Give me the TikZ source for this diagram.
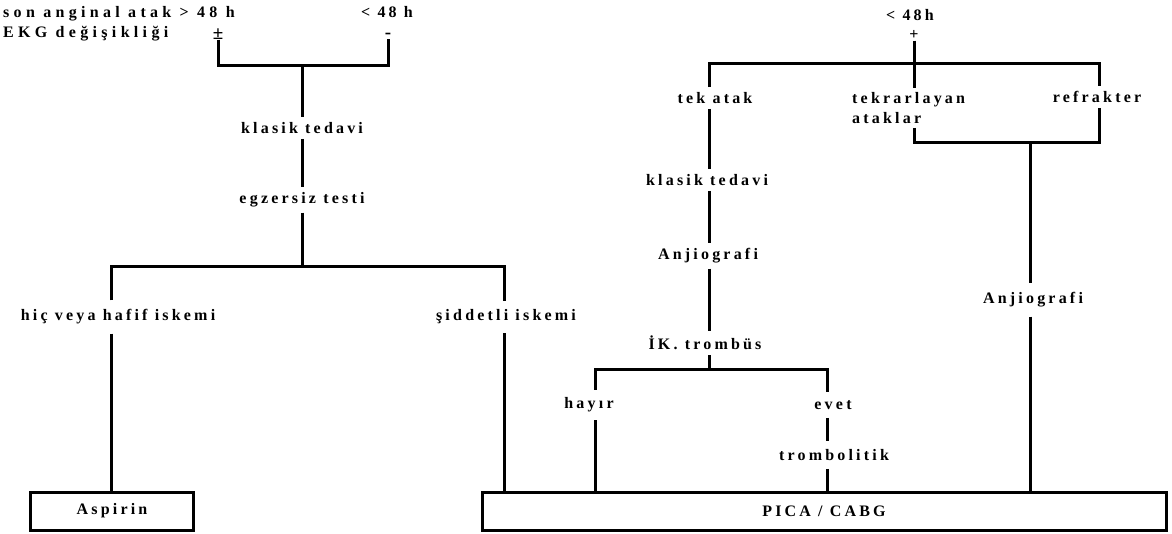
\documentclass[tikz,border=0pt]{standalone}
\usepackage{fontspec}
\setmainfont{Liberation Serif}[LetterSpace=20]
\newfontfamily\widefam{Liberation Serif}[LetterSpace=27]
\newcommand\lblfont{\fontsize{16}{20}\selectfont\bfseries}
\newcommand\symfont{\fontsize{19}{20}\selectfont\bfseries}
\newcommand\headfont{\widefam\fontsize{16}{20}\selectfont\bfseries}
\begin{document}
\begin{tikzpicture}[x=1pt,y=-1pt,
  lbl/.style={inner sep=5pt, font=\lblfont},
  head/.style={inner sep=0pt, font=\headfont, anchor=west},
  sym/.style={inner sep=0pt, font=\symfont},
  ln/.style={line width=3pt},
  boxn/.style={draw, line width=3pt, inner sep=0pt, font=\lblfont}]
\useasboundingbox (0,0) rectangle (1172,533);
% ---------- left tree ----------
\node[head] (son) at (3,14) {son anginal atak > 48 h};
\node[head] (ekg) at (3,34) {EKG değişikliği};
\node[lbl, inner sep=0pt] (lt48a) at (387,12) {< 48 h};
\node[sym] (pm) at (218,34) {±};
\node[sym] (minus) at (388,36) {-};
\coordinate (jL) at (302,65);
\node[lbl] (kt1) at (302,128) {klasik tedavi};
\node[lbl] (eg) at (302,200) {egzersiz testi};
\coordinate (jL2) at (302,266);
\coordinate (cL) at (111,266);
\coordinate (cR) at (504,266);
\node[lbl, inner sep=9pt] (hic) at (118,317) {hiç veya hafif iskemi};
\node[lbl, inner sep=9pt] (sid) at (506,317) {şiddetli iskemi};
\node[boxn, minimum width=163pt, minimum height=38pt] (asp) at (112,511) {Aspirin};
\node[boxn, minimum width=684pt, minimum height=38pt] (pica) at (824,511) {PICA / CABG};
\draw[ln] (pm.south) |- (jL) -| (minus.south);
\draw[ln] (jL) -- (kt1.north -| jL);
\draw[ln] (kt1.south -| jL) -- (eg.north -| jL);
\draw[ln] (eg.south -| jL) -- (jL2);
\draw[ln] (cL |- hic.north) -- (cL) -- (cR) -- (cR |- sid.north);
\draw[ln] (cL |- hic.south) -- (cL |- asp.north);
\draw[ln] (cR |- sid.south) -- (cR |- pica.north);
% ---------- right tree ----------
\node[lbl, inner sep=0pt] (lt48b) at (910,15) {< 48h};
\node[lbl, inner sep=1pt] (plus) at (914,35) {+};
\coordinate (a1) at (709,63);
\coordinate (a2) at (1099,63);
\node[lbl] (tek) at (715,98) {tek atak};
\node[lbl, anchor=west, align=left, inner sep=4pt] (tekr) at (848,108) {tekrarlayan\\ataklar};
\node[lbl] (ref) at (1097,97) {refrakter};
\coordinate (b2) at (1099,142);
\coordinate (b1) at (1030,142);
\node[lbl, inner sep=9pt] (ang2) at (1033,300) {Anjiografi};
\node[lbl] (kt2) at (707,180) {klasik tedavi};
\node[lbl] (ang1) at (708,256) {Anjiografi};
\node[lbl] (ik) at (705,343) {İK. trombüs};
\coordinate (c0) at (709,369);
\coordinate (c1) at (595,369);
\coordinate (c2) at (827,369);
\node[lbl, inner sep=8pt] (hay) at (589,405) {hayır};
\node[lbl, inner sep=8pt] (ev) at (833,405) {evet};
\node[lbl, inner sep=8pt] (trom) at (834,455) {trombolitik};
\draw[ln] (plus.south) -- (tekr.north -| plus);
\draw[ln] (tek.north -| a1) |- (a2) -- (ref.north -| a2);
\draw[ln] (tekr.south -| plus) |- (b2) -- (ref.south -| a2);
\draw[ln] (b1) -- (ang2.north -| b1);
\draw[ln] (ang2.south -| b1) -- (pica.north -| b1);
\draw[ln] (tek.south -| a1) -- (kt2.north -| a1);
\draw[ln] (kt2.south -| a1) -- (ang1.north -| a1);
\draw[ln] (ang1.south -| a1) -- (ik.north -| a1);
\draw[ln] (ik.south -| a1) -- (c0);
\draw[ln] (hay.north -| c1) |- (c2) -- (ev.north -| c2);
\draw[ln] (hay.south -| c1) -- (pica.north -| c1);
\draw[ln] (ev.south -| c2) -- (trom.north -| c2);
\draw[ln] (trom.south -| c2) -- (pica.north -| c2);
\end{tikzpicture}
\end{document}
